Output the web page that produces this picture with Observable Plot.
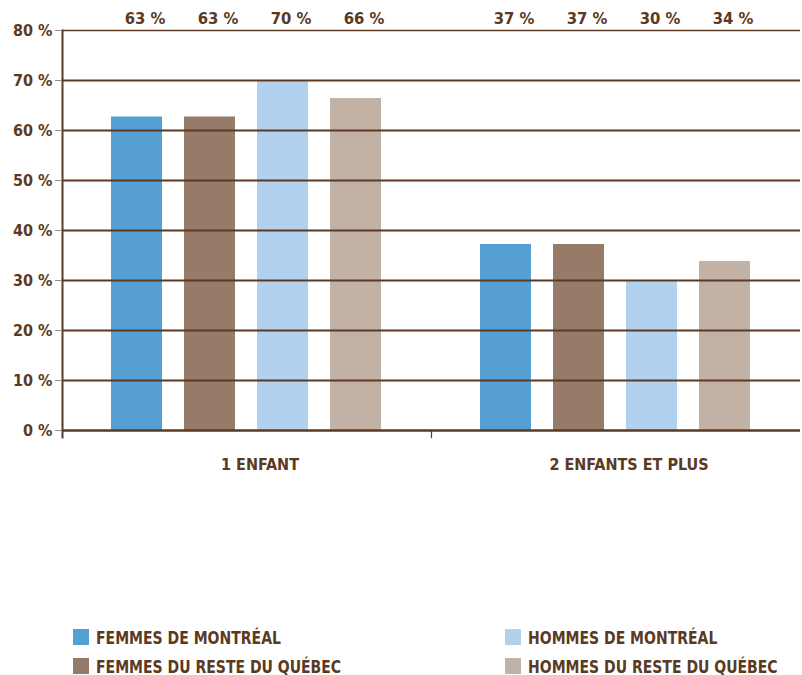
<!DOCTYPE html>
<html>
<head>
<meta charset="utf-8">
<script src="https://cdn.jsdelivr.net/npm/d3@7"></script>
<script src="https://cdn.jsdelivr.net/npm/@observablehq/plot@0.6"></script>
<style>
  html, body { margin: 0; padding: 0; background: #fff; }
  body { width: 802px; height: 675px; overflow: hidden; position: relative;
         font-family: "Liberation Sans Narrow", "DejaVu Sans Condensed", "Roboto", sans-serif; }
  #chart svg { display: block; }
  .legend { position: absolute; left: 73px; top: 629px; display: grid;
            grid-template-columns: 432px 300px; row-gap: 13px; }
  .item { display: flex; align-items: center; height: 16px; font-weight: bold;
          font-size: 18px; color: #5a3a22; white-space: nowrap; }
  .sw { width: 16px; height: 16px; margin-right: 7px; flex: none; }
  .lbl { display: inline-block; transform: scaleX(0.865); transform-origin: left center; }
</style>
</head>
<body>
<div id="chart"></div>
<div class="legend" id="legend"></div>
<script>
const groups = ["1 ENFANT", "2 ENFANTS ET PLUS"];
const series = ["FEMMES DE MONTRÉAL", "FEMMES DU RESTE DU QUÉBEC", "HOMMES DE MONTRÉAL", "HOMMES DU RESTE DU QUÉBEC"];
const colors = ["#569fd3", "#957b68", "#b0d2ef", "#c1b2a5"];
const values1Enfant = [62.7, 62.7, 70.0, 66.4];
const values2Enfants = [37.2, 37.2, 30.0, 33.8];
const yTicks = [0, 10, 20, 30, 40, 50, 60, 70, 80];
const legendOrder = [0, 2, 1, 3];

const brown = "#5a3a22";
const font = '"Liberation Sans Narrow", "DejaVu Sans Condensed", "Roboto", sans-serif';

const data = [];
[values1Enfant, values2Enfants].forEach((vals, gi) => {
  vals.forEach((v, si) => data.push({group: groups[gi], series: series[si], value: v}));
});

const plot = Plot.plot({
  width: 802,
  height: 480,
  marginLeft: 62,
  marginRight: 2,
  marginTop: 30,
  marginBottom: 50,
  style: {fontFamily: font, fontWeight: "bold", color: brown, background: "#fff"},
  fx: {domain: groups, padding: 0, label: null, axis: null},
  x: {domain: series, paddingInner: 0.3, paddingOuter: 0.646, axis: null},
  y: {domain: [0, 80], axis: null},
  color: {domain: series, range: colors},
  marks: [
    Plot.barY(data, {fx: "group", x: "series", y: "value", fill: "series"}),
    Plot.ruleY(yTicks.filter(d => d > 0 && d < 80), {y: d => d, stroke: brown, strokeWidth: 2.2}),
    Plot.ruleY([80], {stroke: brown, strokeWidth: 1.3}),
    Plot.ruleY([0], {stroke: brown, strokeWidth: 2.6}),
    Plot.frame({anchor: "left", fx: [groups[0]], stroke: brown, strokeWidth: 2, insetBottom: -7}),
    Plot.frame({anchor: "left", fx: [groups[1]], stroke: brown, strokeWidth: 1.2, insetTop: 400, insetBottom: -7}),
    Plot.axisY(yTicks, {
      anchor: "left", label: null, tickSize: 7, tickPadding: 3, stroke: "#9c8a7c", fill: brown,
      tickFormat: d => d + " %", fontSize: 16, fontWeight: "bold"
    }),
    Plot.text(data, {
      fx: "group", x: "series", frameAnchor: "top", dy: -18, dx: 8,
      text: d => Math.round(d.value) + " %", fill: brown, fontSize: 16.5, fontWeight: "bold"
    }),
    Plot.axisFx({
      anchor: "bottom", tickSize: 0, tickPadding: 28, dx: 13, label: null,
      fill: brown, fontSize: 16, fontWeight: "bold"
    })
  ]
});
document.getElementById("chart").appendChild(plot);

const legend = document.getElementById("legend");
legendOrder.forEach(i => {
  const item = document.createElement("div");
  item.className = "item";
  const sw = document.createElement("span");
  sw.className = "sw";
  sw.style.background = colors[i];
  item.appendChild(sw);
  const t = document.createElement("span");
  t.className = "lbl";
  t.textContent = series[i];
  item.appendChild(t);
  legend.appendChild(item);
});
</script>
</body>
</html>
